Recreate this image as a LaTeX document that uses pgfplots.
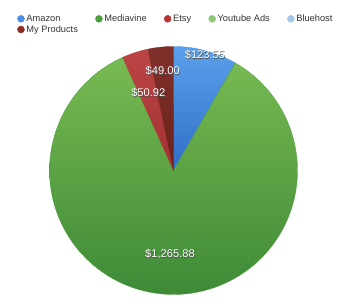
\documentclass[border=0pt]{standalone}
\usepackage{fontspec}
\setmainfont{Liberation Sans}
\usepackage{pgfplots}
\pgfplotsset{compat=1.18}
\definecolor{cAmazon}{HTML}{4A8FE2}
\definecolor{cMedia}{HTML}{4B9E3C}
\definecolor{cEtsy}{HTML}{B83434}
\definecolor{cYT}{HTML}{8CC67A}
\definecolor{cBlue}{HTML}{A6C7EC}
\definecolor{cMy}{HTML}{8A2A22}
\definecolor{aTop}{HTML}{5AA0EC}\definecolor{aBot}{HTML}{2F6EC6}
\definecolor{mTop}{HTML}{78BA52}\definecolor{mBot}{HTML}{3E8A37}
\definecolor{eTop}{HTML}{BC4444}\definecolor{eBot}{HTML}{A23232}
\definecolor{pTop}{HTML}{80302A}\definecolor{pBot}{HTML}{6B221C}
% values
\def\vA{123.55}
\def\vB{1265.88}
\def\vC{50.92}
\def\vD{0}
\def\vE{0}
\def\vF{49.00}
\pgfmathsetmacro\tot{\vA+\vB+\vC+\vD+\vE+\vF}
\pgfmathsetmacro\degper{360/\tot}
\newcommand\slice[5]{%
  \pgfmathsetmacro\sa{90-\degper*(#1)}%
  \pgfmathsetmacro\sb{90-\degper*(#1+#2)}%
  \edef\tmp{\noexpand\addplot[forget plot, draw=#5, line width=0.35bp, line join=round, top color=#3, bottom color=#4, domain=\sb:\sa, samples=120]}%
  \tmp ({cos(x)},{sin(x)}) -- (axis cs:0,0) -- cycle;%
}
\newcommand\lbl[3]{%
  \node[text=black!70, font=\fontsize{11.2}{12}\selectfont] at ([xshift=0.5bp,yshift=-0.6bp]axis cs:#1,#2) {#3};%
  \node[text=white, font=\fontsize{11.2}{12}\selectfont] at (axis cs:#1,#2) {#3};%
}
\begin{document}
\begin{tikzpicture}
\useasboundingbox (0,0) rectangle (345bp,307bp);
\begin{axis}[
  at={(173.5bp,136.5bp)}, anchor=origin,
  x=124bp, y=124bp,
  xmin=-1, xmax=1, ymin=-1, ymax=1,
  hide axis, clip=false,
  legend columns=5,
  legend cell align=left,
  legend style={at={(-0.142,1.145)}, anchor=north west, draw=none, fill=none,
    font=\fontsize{9.3}{11}\selectfont, text=black!80,
    /tikz/every even column/.append style={column sep=15.5bp},
    row sep=-1.5bp},
]
\slice{0}{\vA}{aTop}{aBot}{cAmazon}
\slice{\vA}{\vB}{mTop}{mBot}{cMedia}
\slice{\vA+\vB}{\vC}{eTop}{eBot}{cEtsy}
\slice{\vA+\vB+\vC+\vD+\vE}{\vF}{pTop}{pBot}{cMy!85!black}
\addlegendimage{only marks, mark=*, mark size=3.5bp, mark options={draw=cAmazon, fill=cAmazon}}
\addlegendentry{Amazon}
\addlegendimage{only marks, mark=*, mark size=3.5bp, mark options={draw=cMedia, fill=cMedia}}
\addlegendentry{Mediavine}
\addlegendimage{only marks, mark=*, mark size=3.5bp, mark options={draw=cEtsy, fill=cEtsy}}
\addlegendentry{Etsy}
\addlegendimage{only marks, mark=*, mark size=3.5bp, mark options={draw=cYT, fill=cYT}}
\addlegendentry{Youtube Ads}
\addlegendimage{only marks, mark=*, mark size=3.5bp, mark options={draw=cBlue, fill=cBlue}}
\addlegendentry{Bluehost}
\addlegendimage{only marks, mark=*, mark size=3.5bp, mark options={draw=cMy, fill=cMy}}
\addlegendentry{My Products}
\lbl{0.254}{0.931}{\$123.55}
\lbl{-0.087}{0.805}{\$49.00}
\lbl{-0.203}{0.627}{\$50.92}
\lbl{-0.028}{-0.676}{\$1,265.88}
\end{axis}
\end{tikzpicture}
\end{document}
